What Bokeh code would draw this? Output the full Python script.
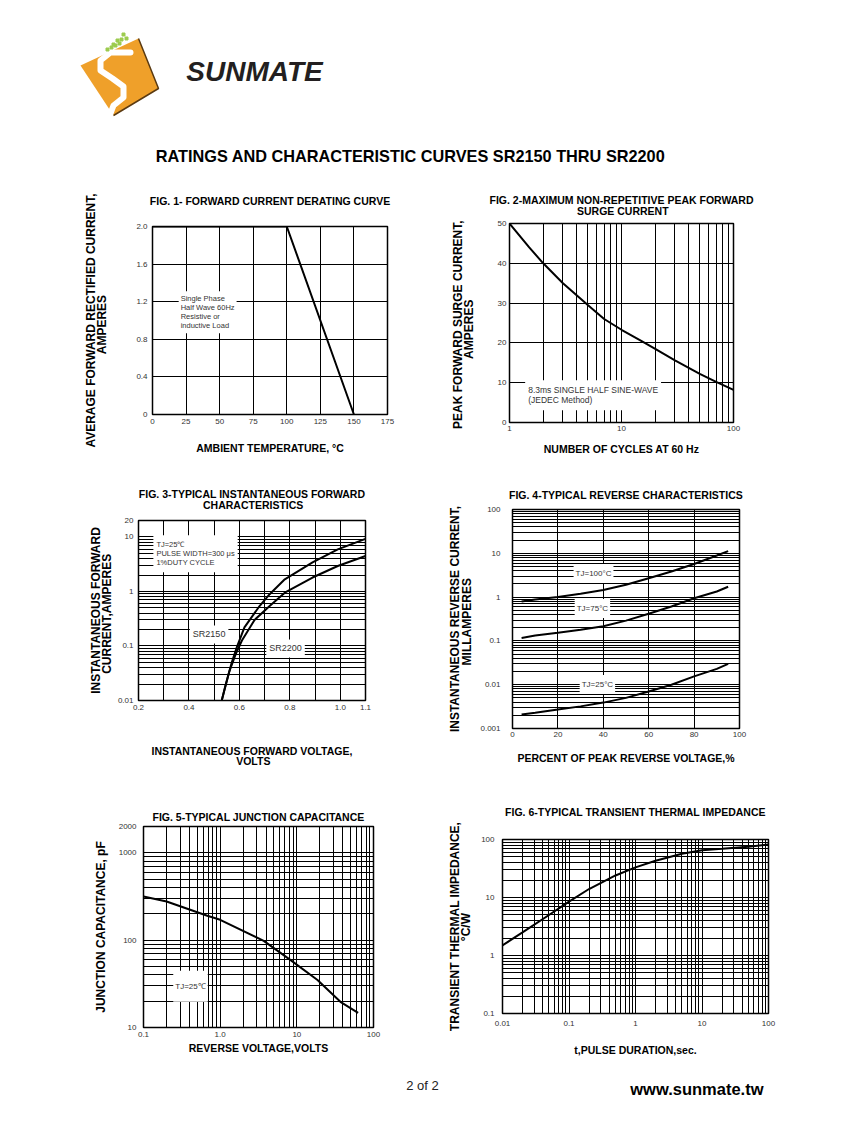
from bokeh.plotting import figure
from bokeh.models import Range1d, FixedTicker, Label, Div, Title
from bokeh.layouts import column, row
from bokeh.embed import file_html
from bokeh.resources import INLINE
from bokeh.core.properties import value

FONT = "Liberation Sans"
NB = "\u00a0"

# ---------------- data ----------------
# Fig 1 - forward current derating curve
fig1_temp = [0, 100, 150]
fig1_current = [2.0, 2.0, 0.0]

# Fig 2 - max non-repetitive peak forward surge current
fig2_cycles = [1, 1.5, 2, 3, 5, 7, 10, 15, 20, 30, 50, 70, 100]
fig2_surge = [50, 44, 40, 35, 29.5, 26, 23.3, 20.5, 18.5, 15.6, 12.2, 10.2, 8.2]

# Fig 3 - typical instantaneous forward characteristics
fig3_v_sr2150 = [0.53, 0.545, 0.57, 0.59, 0.62, 0.68, 0.72, 0.78, 0.89, 0.99, 1.1]
fig3_i_sr2150 = [0.01, 0.019, 0.05, 0.095, 0.22, 0.54, 0.89, 1.67, 3.4, 5.9, 9.2]
fig3_v_sr2200 = [0.53, 0.56, 0.585, 0.61, 0.66, 0.72, 0.78, 0.89, 0.99, 1.1]
fig3_i_sr2200 = [0.01, 0.034, 0.07, 0.126, 0.3, 0.54, 0.95, 1.8, 2.93, 4.46]

# Fig 4 - typical reverse characteristics
fig4_pct = [4, 10, 20, 30, 40, 50, 60, 70, 80, 90, 95]
fig4_tj100 = [0.79, 0.88, 1.0, 1.19, 1.45, 1.91, 2.7, 3.84, 5.7, 8.9, 11.2]
fig4_tj75 = [0.117, 0.133, 0.153, 0.18, 0.217, 0.29, 0.416, 0.61, 0.94, 1.34, 1.72]
fig4_tj25 = [0.0021, 0.0023, 0.0027, 0.0032, 0.0039, 0.005, 0.007, 0.010, 0.0155, 0.023, 0.030]

# Fig 5 - typical junction capacitance
fig5_volts = [0.1, 0.2, 0.68, 1.0, 3.7, 8.3, 18.6, 37, 63]
fig5_cap = [316, 277, 190, 171, 98, 59, 35, 19.7, 14.7]

# Fig 6 - typical transient thermal impedance
fig6_t = [0.01, 0.02, 0.05, 0.1, 0.2, 0.5, 1, 2, 5, 10, 20, 50, 100]
fig6_z = [1.5, 2.5, 5.0, 8.5, 14, 24, 33, 43, 57, 65, 69, 75, 82]

# tick labels
fig1_xticks = [0, 25, 50, 75, 100, 125, 150, 175]
fig1_yticks = [0, 0.4, 0.8, 1.2, 1.6, 2.0]
fig1_ylabels = ["0", "0.4", "0.8", "1.2", "1.6", "2.0"]
fig2_xticks = [1, 10, 100]
fig2_xlabels = ["1", "10", "100"]
fig2_yticks = [0, 10, 20, 30, 40, 50]
fig3_xticks = [0.2, 0.4, 0.6, 0.8, 1.0, 1.1]
fig3_xlabels = ["0.2", "0.4", "0.6", "0.8", "1.0", "1.1"]
fig3_yticks = [0.01, 0.1, 1, 10, 20]
fig3_ylabels = ["0.01", "0.1", "1", "10", "20"]
fig4_xticks = [0, 20, 40, 60, 80, 100]
fig4_yticks = [0.001, 0.01, 0.1, 1, 10, 100]
fig4_ylabels = ["0.001", "0.01", "0.1", "1", "10", "100"]
fig5_xticks = [0.1, 1, 10, 100]
fig5_xlabels = ["0.1", "1.0", "10", "100"]
fig5_yticks = [10, 100, 1000, 2000]
fig5_ylabels = ["10", "100", "1000", "2000"]
fig6_xticks = [0.01, 0.1, 1, 10, 100]
fig6_xlabels = ["0.01", "0.1", "1", "10", "100"]
fig6_yticks = [0.1, 1, 10, 100]
fig6_ylabels = ["0.1", "1", "10", "100"]


def log_grid(lo_exp, hi_exp):
    vals = []
    for e in range(lo_exp, hi_exp):
        for m in range(1, 10):
            vals.append(round(m * 10 ** e, 6))
    vals.append(round(10 ** hi_exp, 6))
    return vals


def chart(width, height, borders, xr, yr, xlog=False, ylog=False):
    left, right, top, bottom = borders
    p = figure(width=width, height=height, x_range=xr, y_range=yr,
               x_axis_type="log" if xlog else "linear",
               y_axis_type="log" if ylog else "linear",
               output_backend="svg", toolbar_location=None,
               min_border_left=left, min_border_right=right,
               min_border_top=top, min_border_bottom=bottom)
    p.outline_line_color = "black"
    p.outline_line_width = 1.5
    p.outline_line_alpha = 1.0
    for ax in (p.xaxis[0], p.yaxis[0]):
        ax.axis_line_color = None
        ax.major_tick_line_color = None
        ax.minor_tick_line_color = None
        ax.major_tick_out = 0
        ax.major_tick_in = 0
        ax.minor_tick_out = 0
        ax.minor_tick_in = 0
        ax.major_label_text_font = FONT
        ax.major_label_text_font_size = "8px"
        ax.major_label_text_color = "#333333"
    for g in (p.xgrid[0], p.ygrid[0]):
        g.grid_line_color = "black"
        g.grid_line_width = 1
        g.grid_line_alpha = 1.0
    return p


def ticks(p, xt, yt, xlab=None, ylab=None, xstand=4, ystand=5):
    p.xaxis[0].ticker = FixedTicker(ticks=xt)
    p.yaxis[0].ticker = FixedTicker(ticks=yt)
    if xlab:
        p.xaxis[0].major_label_overrides = {t: s for t, s in zip(xt, xlab)}
    if ylab:
        p.yaxis[0].major_label_overrides = {t: s for t, s in zip(yt, ylab)}
    p.xaxis[0].major_label_standoff = xstand
    p.yaxis[0].major_label_standoff = ystand


def add_title(p, text, side, size, standoff, offset, lh):
    p.add_layout(Title(text=text, align="center", text_font=FONT, text_font_size=size,
                       text_font_style="bold", text_color="black", standoff=standoff,
                       offset=offset, text_line_height=lh), side)


def note(p, x, y, text, size="8px", align="center", baseline="middle", pad=(2, 5)):
    p.add_layout(Label(x=x, y=y, text=text, text_font=FONT, text_font_size=size,
                       text_color="#333333", text_align=align,
                       text_baseline=baseline, text_line_height=1.0,
                       background_fill_color="white", background_fill_alpha=1.0,
                       padding=pad))


# ---------------- header ----------------
hdr = figure(width=835, height=170, x_range=Range1d(0, 835), y_range=Range1d(170, 0),
             x_axis_type=None, y_axis_type=None, output_backend="svg",
             toolbar_location=None, min_border=0, outline_line_color=None)
hdr.patch([80, 138, 158, 113], [65, 38, 88, 115], fill_color="#EFA02A", line_color=None)
hdr.line([138, 158, 113], [38, 88, 115], line_color="#5A3A12", line_width=1.5)
hdr.line([130, 110, 100, 100, 112, 123, 123, 113, 110], [52, 52, 60, 70, 78, 86, 97, 105, 113],
         line_color="white", line_width=6, line_cap="round", line_join="round")
hdr.scatter([123, 121, 117, 113, 111, 107, 119, 115, 126], [34, 39, 40, 44, 47, 49, 43, 45, 38],
            marker="square", size=3, color="#9CCB4E")
hdr.text(x=[254], y=[71], text=["SUNMATE"], text_font=value(FONT), text_font_size="28px",
         text_font_style="bold italic", text_color="#231F20", text_align="center",
         text_baseline="middle")
hdr.text(x=[410], y=[155], text=["RATINGS AND CHARACTERISTIC CURVES SR2150 THRU SR2200"],
         text_font=value(FONT), text_font_size="16.3px", text_font_style="bold",
         text_color="black", text_align="center", text_baseline="middle")

# ---------------- Fig 1 ----------------
f1 = chart(430, 300, (152, 43, 56, 56), Range1d(0, 175), Range1d(0, 2.0))
ticks(f1, fig1_xticks, fig1_yticks, None, fig1_ylabels, xstand=4, ystand=5)
f1.xgrid[0].ticker = FixedTicker(ticks=[25, 50, 75, 100, 125, 150])
f1.ygrid[0].ticker = FixedTicker(ticks=[0.4, 0.8, 1.2, 1.6])
f1.line(fig1_temp, fig1_current, line_color="black", line_width=2)
note(f1, 19.5, 1.31, "Single Phase\nHalf Wave 60Hz\nResistive or\ninductive Load",
     size="7.5px", align="left", baseline="top", pad=(2, 3))
add_title(f1, "FIG. 1- FORWARD CURRENT DERATING CURVE", "above", "10.5px", 39, -1, 1.0)
add_title(f1, "AVERAGE FORWARD RECTIFIED CURRENT,\n" + NB * 28 + "AMPERES",
          "left", "12px", 48.7, 4, 0.8)
add_title(f1, "AMBIENT TEMPERATURE, \u00b0C", "below", "10.5px", 28.2, 15, 1.0)

# ---------------- Fig 2 ----------------
f2 = chart(405, 300, (76, 102, 53, 48), Range1d(1, 100), Range1d(0, 50), xlog=True)
ticks(f2, fig2_xticks, fig2_yticks, fig2_xlabels, None, xstand=3, ystand=3)
f2.xgrid[0].ticker = FixedTicker(ticks=[2, 3, 4, 5, 6, 7, 8, 9, 10, 20, 30, 40, 50, 60, 70, 80, 90])
f2.ygrid[0].ticker = FixedTicker(ticks=[10, 20, 30, 40])
f2.line(fig2_cycles, fig2_surge, line_color="black", line_width=2)
note(f2, 1.38, 10.6, "8.3ms SINGLE HALF SINE-WAVE\n(JEDEC Method)", size="8.5px",
     align="left", baseline="top", pad=(3, 5))
add_title(f2, "FIG. 2-MAXIMUM NON-REPETITIVE PEAK FORWARD\n" + NB * 30 + "SURGE CURRENT",
          "above", "10.5px", 12, -1, 0.92)
add_title(f2, "PEAK  FORWARD SURGE CURRENT,\n" + NB * 21 + "AMPERES",
          "left", "12px", 36.9, 14.5, 0.8)
add_title(f2, "NUMBER OF CYCLES AT 60 Hz", "below", "10.5px", 16.2, -1.5, 1.0)

# ---------------- Fig 3 ----------------
f3 = chart(430, 327, (138, 65, 50, 97), Range1d(0.2, 1.1), Range1d(0.01, 20), ylog=True)
ticks(f3, fig3_xticks, fig3_yticks, fig3_xlabels, fig3_ylabels, xstand=4, ystand=5)
f3.xgrid[0].ticker = FixedTicker(ticks=[0.3, 0.4, 0.5, 0.6, 0.7, 0.8, 0.9, 1.0])
f3.ygrid[0].ticker = FixedTicker(ticks=log_grid(-2, 1))
f3.line(fig3_v_sr2150, fig3_i_sr2150, line_color="black", line_width=2)
f3.line(fig3_v_sr2200, fig3_i_sr2200, line_color="black", line_width=2)
note(f3, 0.259, 10.7, "TJ=25\u2103\nPULSE WIDTH=300 \u03bcs\n1%DUTY CYCLE", size="7.5px",
     align="left", baseline="top", pad=(3, 5))
note(f3, 0.48, 0.163, "SR2150", size="9px", pad=(3, 4))
note(f3, 0.783, 0.09, "SR2200", size="9px", pad=(3, 4))
add_title(f3, "FIG. 3-TYPICAL INSTANTANEOUS FORWARD\n" + NB * 22 + "CHARACTERISTICS",
          "above", "10.5px", 18, 10.8, 0.92)
add_title(f3, "INSTANTANEOUS FORWARD\n" + NB * 6 + "CURRENT,AMPERES",
          "left", "12px", 0, 11, 0.8)
add_title(f3, "INSTANTANEOUS FORWARD VOLTAGE,\n" + NB * 29 + "VOLTS",
          "below", "10.5px", 61.2, 1, 0.85)

# ---------------- Fig 4 ----------------
f4 = chart(405, 310, (82, 96, 39, 52), Range1d(0, 100), Range1d(0.001, 100), ylog=True)
ticks(f4, fig4_xticks, fig4_yticks, None, fig4_ylabels, xstand=3, ystand=12)
f4.xgrid[0].ticker = FixedTicker(ticks=[20, 40, 60, 80])
f4.ygrid[0].ticker = FixedTicker(ticks=log_grid(-3, 2))
f4.line(fig4_pct, fig4_tj100, line_color="black", line_width=2)
f4.line(fig4_pct, fig4_tj75, line_color="black", line_width=2)
f4.line(fig4_pct, fig4_tj25, line_color="black", line_width=2)
note(f4, 35.7, 3.46, "TJ=100\u00b0C", pad=(2, 5))
note(f4, 35.2, 0.55, "TJ=75\u00b0C", pad=(2, 5))
note(f4, 37.4, 0.0101, "TJ=25\u00b0C", pad=(2, 5))
add_title(f4, "FIG. 4-TYPICAL REVERSE CHARACTERISTICS", "above", "10.5px", 17, 1, 1.0)
add_title(f4, "INSTANTANEOUS REVERSE CURRENT,\n" + NB * 20 + "MILLAMPERES",
          "left", "12px", 7.7, 2, 0.8)
add_title(f4, "PERCENT OF PEAK REVERSE VOLTAGE,%", "below", "10.5px", 22.2, -7, 1.0)

# ---------------- Fig 5 ----------------
f5 = chart(430, 273, (143, 57, 29, 43), Range1d(0.1, 100), Range1d(10, 2000), xlog=True, ylog=True)
ticks(f5, fig5_xticks, fig5_yticks, fig5_xlabels, fig5_ylabels, xstand=4, ystand=7)
f5.xgrid[0].ticker = FixedTicker(ticks=log_grid(-1, 2))
f5.ygrid[0].ticker = FixedTicker(ticks=log_grid(1, 3))
f5.line(fig5_volts, fig5_cap, line_color="black", line_width=2)
note(f5, 0.41, 29.7, "TJ=25\u2103", pad=(2, 11))
add_title(f5, "FIG. 5-TYPICAL JUNCTION CAPACITANCE", "above", "10.5px", 7.6, 1, 1.0)
add_title(f5, "JUNCTION CAPACITANCE, pF", "left", "12px", 15.8, 3.5, 0.8)
add_title(f5, "REVERSE VOLTAGE,VOLTS", "below", "10.5px", 2.2, -1, 1.0)

# ---------------- Fig 6 ----------------
f6 = chart(405, 291, (72, 67, 59, 58), Range1d(0.01, 100), Range1d(0.1, 100), xlog=True, ylog=True)
ticks(f6, fig6_xticks, fig6_yticks, fig6_xlabels, fig6_ylabels, xstand=7, ystand=8)
f6.xgrid[0].ticker = FixedTicker(ticks=log_grid(-2, 2))
f6.ygrid[0].ticker = FixedTicker(ticks=log_grid(-1, 2))
f6.line(fig6_t, fig6_z, line_color="black", line_width=2)
add_title(f6, "FIG. 6-TYPICAL TRANSIENT THERMAL IMPEDANCE", "above", "10.5px", 43.6, -2.5, 1.0)
add_title(f6, "TRANSIENT THERMAL IMPEDANCE,\n" + NB * 27 + "\u00b0C/W",
          "left", "12px", 10, 24.5, 0.8)
add_title(f6, "t,PULSE DURATION,sec.", "below", "10.5px", 26.5, -1.7, 1.0)

# ---------------- footer ----------------
ftr = figure(width=835, height=40, x_range=Range1d(0, 835), y_range=Range1d(1111, 1071),
             x_axis_type=None, y_axis_type=None, output_backend="svg",
             toolbar_location=None, min_border=0, outline_line_color=None)
ftr.text(x=[422], y=[1085], text=["2 of 2"], text_font=value(FONT), text_font_size="13px",
         text_color="#222222", text_align="center", text_baseline="middle")
ftr.text(x=[763], y=[1088], text=["www.sunmate.tw"], text_font=value(FONT),
         text_font_size="16.5px", text_font_style="bold", text_color="black",
         text_align="right", text_baseline="middle")


def spacer():
    return Div(text="", width=0, height=0, margin=0)


left_col = column(column(f1), column(f3), column(f5), spacer())
right_col = column(column(f2), column(f4), column(f6), spacer())
layout = column(hdr, row(left_col, right_col, spacer()), ftr)
open("out.html", "w").write(file_html(layout, INLINE))
